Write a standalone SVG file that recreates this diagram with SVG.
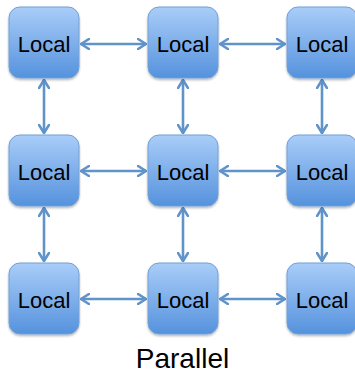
<svg xmlns="http://www.w3.org/2000/svg" width="355" height="374" viewBox="0 0 355 374">
<defs>
<linearGradient id="g" x1="0" y1="0" x2="0" y2="1">
<stop offset="0" stop-color="#a9cdf8"/>
<stop offset="1" stop-color="#5592dd"/>
</linearGradient>
<filter id="sh" x="-20%" y="-20%" width="140%" height="140%">
<feDropShadow dx="0" dy="1.5" stdDeviation="1.2" flood-color="#000" flood-opacity="0.3"/>
</filter>
<marker id="ah" viewBox="0 0 10 12" refX="9" refY="6" markerWidth="10" markerHeight="12" markerUnits="userSpaceOnUse" orient="auto-start-reverse">
<path d="M1,1 L9,6 L1,11" fill="none" stroke="#6193cb" stroke-width="2.6" stroke-linecap="round" stroke-linejoin="round"/>
</marker>
</defs>
<style>
.box{fill:url(#g);stroke:#72a0d6;stroke-width:1;filter:url(#sh)}
.lbl{font-family:"Liberation Sans",Arial,sans-serif;font-size:22px;fill:#000;text-anchor:middle}
.c line{stroke:#6193cb;stroke-width:2.6;marker-start:url(#ah);marker-end:url(#ah)}
</style>
<rect width="355" height="374" fill="#fff"/>
<g class="c" id="connectors">
<line x1="81" y1="44" x2="146" y2="44"/>
<line x1="220" y1="44" x2="285" y2="44"/>
<line x1="81" y1="171" x2="146" y2="171"/>
<line x1="220" y1="171" x2="285" y2="171"/>
<line x1="81" y1="299" x2="146" y2="299"/>
<line x1="220" y1="299" x2="285" y2="299"/>
<line x1="44" y1="80" x2="44" y2="133"/>
<line x1="44" y1="208" x2="44" y2="261"/>
<line x1="183" y1="80" x2="183" y2="133"/>
<line x1="183" y1="208" x2="183" y2="261"/>
<line x1="322" y1="80" x2="322" y2="133"/>
<line x1="322" y1="208" x2="322" y2="261"/>
</g>
<g id="n11"><rect class="box" x="9" y="7" width="70" height="71" rx="11"/><text class="lbl" x="44" y="52">Local</text></g>
<g id="n12"><rect class="box" x="148" y="7" width="70" height="71" rx="11"/><text class="lbl" x="183" y="52">Local</text></g>
<g id="n13"><rect class="box" x="287" y="7" width="70" height="71" rx="11"/><text class="lbl" x="322" y="52">Local</text></g>
<g id="n21"><rect class="box" x="9" y="135" width="70" height="71" rx="11"/><text class="lbl" x="44" y="180">Local</text></g>
<g id="n22"><rect class="box" x="148" y="135" width="70" height="71" rx="11"/><text class="lbl" x="183" y="180">Local</text></g>
<g id="n23"><rect class="box" x="287" y="135" width="70" height="71" rx="11"/><text class="lbl" x="322" y="180">Local</text></g>
<g id="n31"><rect class="box" x="9" y="263" width="70" height="71" rx="11"/><text class="lbl" x="44" y="308">Local</text></g>
<g id="n32"><rect class="box" x="148" y="263" width="70" height="71" rx="11"/><text class="lbl" x="183" y="308">Local</text></g>
<g id="n33"><rect class="box" x="287" y="263" width="70" height="71" rx="11"/><text class="lbl" x="322" y="308">Local</text></g>
<text x="182.5" y="368" font-family="'Liberation Sans',Arial,sans-serif" font-size="28" text-anchor="middle" fill="#000">Parallel</text>
</svg>
